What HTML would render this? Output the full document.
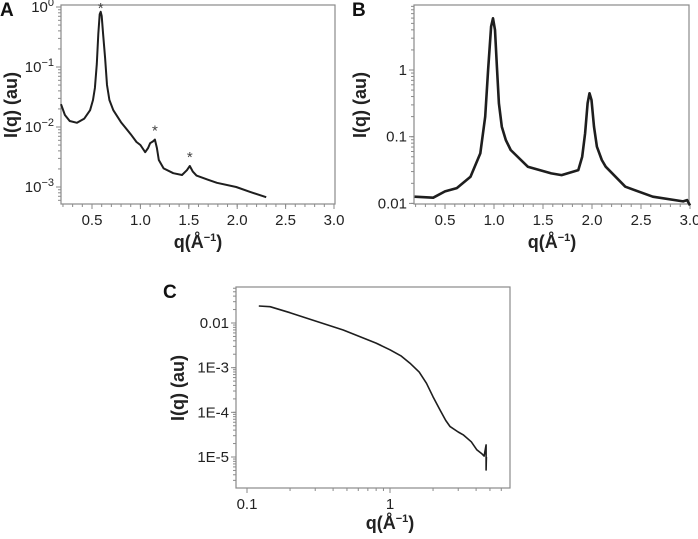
<!DOCTYPE html>
<html><head><meta charset="utf-8"><style>
html,body{margin:0;padding:0;background:#fff;}
svg{display:block;font-family:"Liberation Sans",Arial,sans-serif;}
</style></head><body>
<svg id="fig" width="698" height="539" viewBox="0 0 698 539"></svg>
<script>
// Panel A data
const qA = [0.18,0.22,0.27,0.345,0.42,0.48,0.51,0.53,0.55,0.565,0.58,0.59,0.60,0.615,0.635,0.655,0.68,0.72,0.8,0.9,0.96,1.0,1.05,1.08,1.10,1.13,1.15,1.17,1.19,1.24,1.34,1.43,1.48,1.51,1.54,1.58,1.7,1.79,1.99,2.13,2.30];
const logIA = [-1.62,-1.80,-1.90,-1.93,-1.86,-1.72,-1.55,-1.35,-0.95,-0.45,-0.12,-0.08,-0.15,-0.45,-0.85,-1.3,-1.55,-1.72,-1.92,-2.12,-2.25,-2.30,-2.42,-2.35,-2.27,-2.24,-2.21,-2.35,-2.55,-2.69,-2.77,-2.80,-2.72,-2.65,-2.74,-2.81,-2.88,-2.93,-3.0,-3.08,-3.17];
const starsA = [0.59,1.15,1.51];
const xTicksA = [0.5,1.0,1.5,2.0,2.5,3.0];
const yTicksA = [0,-1,-2,-3];
// Panel B data
const qB = [0.19,0.38,0.5,0.62,0.76,0.86,0.91,0.94,0.97,0.99,1.01,1.03,1.05,1.08,1.12,1.17,1.345,1.585,1.69,1.86,1.90,1.93,1.955,1.975,1.995,2.02,2.05,2.1,2.14,2.34,2.62,2.93,2.97,3.0];
const logIB = [-1.90,-1.915,-1.82,-1.77,-1.60,-1.25,-0.70,0.0,0.65,0.775,0.6,0.05,-0.5,-0.85,-1.05,-1.20,-1.45,-1.55,-1.575,-1.50,-1.30,-0.95,-0.50,-0.35,-0.45,-0.85,-1.15,-1.35,-1.45,-1.75,-1.90,-1.97,-1.95,-2.03];
const xTicksB = [0.5,1.0,1.5,2.0,2.5,3.0];
const yTicksB = [0,-1,-2];
const yLabelsB = ["1","0.1","0.01"];
// Panel C data
const qC = [0.121,0.145,0.2,0.276,0.471,0.8,1.0,1.2,1.38,1.6,1.80,2.0,2.24,2.45,2.63,3.0,3.27,3.7,4.05,4.4,4.55,4.7,4.7,4.72];
const logIC = [-1.62,-1.635,-1.77,-1.917,-2.157,-2.45,-2.60,-2.74,-2.90,-3.10,-3.35,-3.65,-3.95,-4.18,-4.32,-4.44,-4.51,-4.66,-4.84,-4.93,-4.98,-4.73,-5.29,-5.0];
const xTicksC = [0.1,1];
const xLabelsC = ["0.1","1"];
const yTicksC = [-2,-3,-4,-5];
const yLabelsC = ["0.01","1E-3","1E-4","1E-5"];

const NS="http://www.w3.org/2000/svg";
const svg=document.getElementById('fig');
function el(tag,attrs,parent){const e=document.createElementNS(NS,tag);for(const k in attrs)e.setAttribute(k,attrs[k]);(parent||svg).appendChild(e);return e;}

function panel(cfg){
  const g=el('g',{});
  
  
  const X=cfg.x, Y=cfg.y;
  const box=el('rect',{x:cfg.L,y:cfg.T,width:cfg.R-cfg.L,height:cfg.B-cfg.T,fill:'none',stroke:'#8a8a8a','stroke-width':1.2},g);
  
  
  cfg.minorX.forEach(v=>{const px=X(v);if(px>=cfg.L&&px<=cfg.R)el('line',{x1:px,x2:px,y1:cfg.B,y2:cfg.B+3,stroke:'#8a8a8a'},g);});
  cfg.minorY.forEach(v=>{const py=Y(v);if(py>=cfg.T&&py<=cfg.B)el('line',{x1:cfg.L-3,x2:cfg.L,y1:py,y2:py,stroke:'#8a8a8a'},g);});
  cfg.xTicks.forEach((v,i)=>{const px=X(v);
    el('line',{x1:px,x2:px,y1:cfg.B,y2:cfg.B+5,stroke:'#8a8a8a'},g);
    const t=el('text',{x:px,y:cfg.B+21,'text-anchor':'middle','font-size':15,fill:'#222'},g);
    t.textContent=cfg.xLabels[i];
    
    });
  cfg.yTicks.forEach((v,i)=>{const py=Y(v);
    el('line',{x1:cfg.L-5,x2:cfg.L,y1:py,y2:py,stroke:'#8a8a8a'},g);
    const t=el('text',{x:cfg.L-7,y:py+5,'text-anchor':'end','font-size':15,fill:'#222'},g);
    if(cfg.sup){t.textContent='10';const s=el('tspan',{dy:-6,'font-size':11},t);s.textContent=cfg.yLabels[i];}
    else t.textContent=cfg.yLabels[i];
    
    });
  const pts=cfg.qs.map((q,i)=>X(q).toFixed(1)+','+Y(cfg.ls[i]).toFixed(1)).join(' ');
  const pl=el('polyline',{points:pts,fill:'none',stroke:'#1e1e1e','stroke-width':cfg.sw,'stroke-linejoin':'round'},g);
  
  
  const xt=el('text',{x:cfg.xtx,y:cfg.xty,'text-anchor':'middle','font-size':18,'font-weight':'bold',fill:'#222'},g);
  xt.textContent='q(Å';const sp=el('tspan',{dy:-7,'font-size':11},xt);sp.textContent='−1';const sp2=el('tspan',{dy:7},xt);sp2.textContent=')';
  
  
  const yt=el('text',{x:0,y:0,'text-anchor':'middle','font-size':18,'font-weight':'bold',fill:'#222',transform:`translate(${cfg.ytx},${cfg.yty}) rotate(-90)`},g);
  yt.textContent='I(q) (au)';
  
  
  const pt=el('text',{x:cfg.plx,y:cfg.ply,'font-size':19,'font-weight':'bold',fill:'#111'},g);
  pt.textContent=cfg.label;
  
  
  return g;
}
function lin(a,b,pa,pb){return v=>pa+(v-a)*(pb-pa)/(b-a);}
function range(a,b,s){const r=[];for(let v=a;v<=b+1e-9;v+=s)r.push(+v.toFixed(4));return r;}
function logMinor(lo,hi){const r=[];for(let d=lo;d<hi;d++)for(let m=1;m<10;m++)r.push(d+Math.log10(m));return r;}

// Panel A
const XA=lin(0.5,3.0,92,334), YA=lin(0,-3,7,187);
const gA=panel({name:'panel-a',x:XA,y:YA,L:61,R:335,T:5,B:204,minorX:range(0.2,3.0,0.1),minorY:logMinor(-4,1),
  xTicks:xTicksA,xLabels:xTicksA.map(v=>v.toFixed(1)),yTicks:yTicksA,yLabels:yTicksA.map(v=>v===0?'0':'−'+(-v)),sup:true,
  qs:qA,ls:logIA,sw:2,xtx:198,xty:248,ytx:17,yty:105,plx:0,ply:16,label:'A'});
starsA.forEach((q,i)=>{const idx=qA.indexOf(q);const s=el('text',{x:XA(q),y:Math.max(YA(logIA[idx])-4,13),'text-anchor':'middle','font-size':15,fill:'#444'},gA);s.textContent='*';
  
  });

// Panel B
const XB=lin(0.5,3.0,445,690), YB=lin(0,-2,70,203.4);
panel({name:'panel-b',x:XB,y:YB,L:414,R:689,T:5,B:204,minorX:range(0.2,3.0,0.1),minorY:logMinor(-3,1),
  xTicks:xTicksB,xLabels:xTicksB.map(v=>v.toFixed(1)),yTicks:yTicksB,yLabels:yLabelsB,sup:false,
  qs:qB,ls:logIB,sw:2.6,xtx:552,xty:248,ytx:366,yty:105,plx:352,ply:16,label:'B'});

// Panel C
const XCl=lin(-1,0,247,390); const XC=v=>XCl(Math.log10(v)); const YC=lin(-2,-5,323,457);
const minorXC=[];[0.1,1].forEach(d=>{for(let m=1;m<10;m++)minorXC.push(d*m);});
panel({name:'panel-c',x:XC,y:YC,L:236,R:510,T:287,B:488,minorX:minorXC,minorY:logMinor(-6,-1),
  xTicks:xTicksC,xLabels:xLabelsC,yTicks:yTicksC,yLabels:yLabelsC,sup:false,
  qs:qC,ls:logIC,sw:1.6,xtx:390,xty:529,ytx:184,yty:388,plx:163,ply:298,label:'C'});
</script>
</body></html>
